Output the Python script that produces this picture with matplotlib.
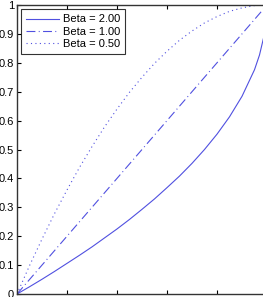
import matplotlib
matplotlib.use("Agg")
import matplotlib.pyplot as plt

plt.rcParams['font.family'] = ['Liberation Sans', 'DejaVu Sans']

# values
x_pts = [0.0, 0.05, 0.1, 0.15, 0.2, 0.25, 0.3, 0.35, 0.4, 0.45, 0.5,
         0.55, 0.6, 0.65, 0.7, 0.75, 0.8, 0.85, 0.9, 0.95, 0.97, 0.99, 1.0]
beta_2 = [0.0, 0.025, 0.051, 0.078, 0.106, 0.134, 0.163, 0.194, 0.225, 0.258, 0.293,
          0.329, 0.368, 0.408, 0.452, 0.500, 0.553, 0.613, 0.684, 0.776, 0.827, 0.90, 1.0]
beta_05 = [0.0, 0.098, 0.19, 0.278, 0.36, 0.438, 0.51, 0.578, 0.64, 0.698, 0.75,
           0.798, 0.84, 0.878, 0.91, 0.938, 0.96, 0.978, 0.99, 0.998, 0.999, 1.0, 1.0]
x_lin = [0.0, 1.0]
beta_1 = [0.0, 1.0]
labels = ['Beta = 2.00', 'Beta = 1.00', 'Beta = 0.50']
y_ticks = [0, 0.1, 0.2, 0.3, 0.4, 0.5, 0.6, 0.7, 0.8, 0.9, 1]
y_ticklabels = ['0', '0.1', '0.2', '0.3', '0.4', '0.5', '0.6', '0.7', '0.8', '0.9', '1']

col = '#5050e0'

fig = plt.figure(figsize=(2.63, 2.97), dpi=100)
# axes run past the right edge, the reference is cropped there
ax = fig.add_axes([17 / 263, 3 / 297, 250 / 263, 289 / 297])

ax.plot(x_pts, beta_2, '-', color=col, lw=0.8, label=labels[0])
ax.plot(x_lin, beta_1, linestyle=(0, (8, 3, 0.9, 3)), color=col, lw=0.8, label=labels[1])
ax.plot(x_pts, beta_05, linestyle=(0, (1, 3)), color=col, lw=0.8, label=labels[2])

ax.set_xlim(0, 1)
ax.set_ylim(0, 1)
ax.set_xticks([0, 0.2, 0.4, 0.6, 0.8, 1.0])
ax.set_xticklabels([])
ax.set_yticks(y_ticks)
ax.set_yticklabels(y_ticklabels)
ax.tick_params(direction='in', length=3, width=0.8, labelsize=8, pad=2,
               top=True, right=True)
for s in ax.spines.values():
    s.set_color('#333333')
    s.set_linewidth(1.0)

leg = ax.legend(loc='upper left', fontsize=8, frameon=True, fancybox=False,
                edgecolor='black', handlelength=2.9, handletextpad=0.4,
                borderpad=0.45, labelspacing=0.2, borderaxespad=0.4)
leg.get_frame().set_linewidth(0.8)

fig.savefig('out.png', dpi=100)
